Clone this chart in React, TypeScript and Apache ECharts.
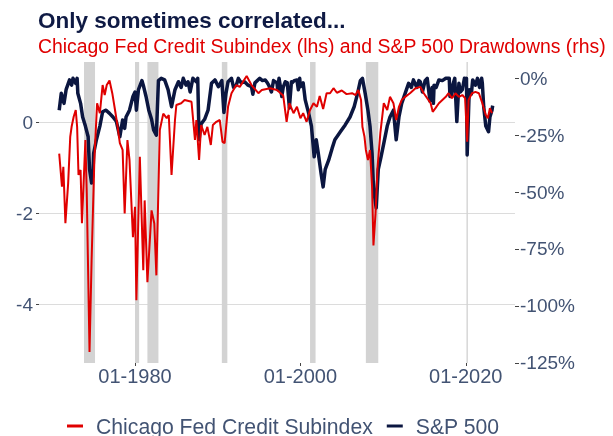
import { useEffect, useRef } from 'react';
import * as echarts from 'echarts';

// ---- Data ----
const creditDates = [
  '1970-11','1971-03','1971-05','1971-08','1971-12','1972-03','1972-05','1972-08','1972-11','1973-01',
  '1973-03','1973-06','1973-08','1974-01','1974-03','1974-07','1974-10','1975-02','1975-06','1975-10',
  '1976-02','1976-05','1976-08','1976-12','1977-04','1977-08','1977-11','1978-03','1978-07','1978-10',
  '1979-02','1979-05','1979-10','1980-01','1980-03','1980-08','1981-01','1981-03','1981-07','1982-01',
  '1982-05','1982-08','1983-01','1983-06','1983-11','1984-02','1984-06','1984-11','1985-01','1985-08',
  '1986-01','1986-11','1987-04','1987-06','1987-10','1988-01','1988-06','1988-10','1989-03','1989-06',
  '1989-11','1990-04','1990-08','1990-11','1991-04','1991-09','1992-04','1992-09','1993-07','1994-02',
  '1994-12','1995-05','1996-05','1997-03','1997-12','1998-05','1998-09','1999-03','1999-08','2000-01',
  '2000-05','2000-10','2001-03','2001-08','2002-01','2002-05','2002-10','2003-03','2003-08','2004-01',
  '2004-06','2005-01','2005-08','2006-04','2006-09','2007-01','2007-05','2007-07','2007-10','2007-12',
  '2008-03','2008-06','2008-09','2008-11','2009-02','2009-05','2009-09','2010-02','2010-07','2010-11',
  '2011-04','2011-08','2011-12','2012-04','2012-09','2013-04','2013-12','2014-07','2014-12','2015-05',
  '2015-10','2016-01','2016-05','2016-10','2017-03','2017-08','2017-12','2018-05','2018-10','2019-03',
  '2019-08','2019-12','2020-03','2020-05','2020-10','2021-03','2021-08','2022-01','2022-06','2022-09',
  '2022-12','2023-03',
];
const creditValues = [
  -0.68,-1.41,-0.97,-2.21,-1.33,-0.31,-0.09,0.13,0.28,-0.09,
  -1.15,-1.04,-2.21,-0.38,-1.56,-5.05,-3.03,-0.82,0.43,0.21,
  0.83,0.61,0.83,0.93,0.65,0.28,-0.01,-0.45,-0.6,-2.0,
  -0.38,-0.82,-2.52,-1.85,-3.91,-0.75,-3.25,-1.71,-3.51,-1.93,
  -2.22,-3.36,-0.16,0.2,0.1,0.17,-1.15,0.06,0.39,0.43,
  0.5,0.46,-0.38,0.06,-0.82,-0.05,-0.27,-0.09,-0.49,-0.05,
  0.02,0.06,-0.42,-0.45,0.35,0.65,0.83,0.79,1.03,0.83,
  0.65,0.72,0.76,0.72,0.6,0.02,0.43,0.21,0.35,0.1,
  0.21,0.02,0.28,0.43,0.35,0.59,0.3,0.65,0.65,0.76,
  0.66,0.71,0.63,0.65,0.61,0.72,0.5,-0.09,-0.31,-0.6,
  -0.82,-0.6,-1.41,-2.7,-2.0,-0.97,-0.23,0.43,0.28,0.57,
  0.43,0.06,0.35,0.5,0.57,0.65,0.76,0.79,0.65,0.54,
  0.43,0.24,0.32,0.43,0.5,0.57,0.65,0.54,0.65,0.57,
  0.61,0.54,-0.42,0.5,0.65,0.68,0.65,0.43,0.17,0.1,
  0.32,0.21,
];

const spxDates = [
  '1970-11','1971-02','1971-06','1971-09','1972-02','1972-05','1972-07','1972-11','1973-01','1973-02',
  '1973-06','1973-09','1974-01','1974-05','1974-07','1974-10','1974-12','1975-01','1975-05','1975-10',
  '1976-02','1976-07','1976-12','1977-05','1977-10','1978-03','1978-07','1978-10','1978-12','1979-05',
  '1979-10','1980-01','1980-03','1980-06','1980-11','1981-01','1981-05','1981-09','1982-01','1982-04',
  '1982-08','1982-11','1983-03','1983-08','1984-01','1984-06','1984-11','1985-04','1985-08','1985-11',
  '1986-03','1986-06','1986-09','1987-01','1987-06','1987-08','1987-10','1987-12','1988-01','1988-06',
  '1988-11','1989-04','1989-09','1990-02','1990-07','1990-10','1991-01','1991-04','1991-09','1991-12',
  '1992-04','1992-07','1992-11','1993-04','1993-09','1994-02','1994-04','1994-07','1995-02','1995-06',
  '1995-10','1996-01','1996-03','1996-07','1996-10','1997-03','1997-04','1997-06','1997-08','1997-10',
  '1997-12','1998-03','1998-06','1998-09','1998-12','1999-01','1999-04','1999-08','1999-10','1999-12',
  '2000-01','2000-05','2000-08','2001-01','2001-05','2001-09','2001-12','2002-03','2002-07','2002-10',
  '2003-01','2003-06','2003-11','2004-03','2004-11','2005-06','2006-01','2006-07','2006-12','2007-04',
  '2007-07','2007-11','2008-03','2008-06','2008-09','2008-11','2009-02','2009-03','2009-06','2009-10',
  '2010-02','2010-07','2010-11','2011-04','2011-08','2011-12','2012-04','2012-09','2013-02','2013-06',
  '2013-09','2014-02','2014-05','2014-07','2014-10','2015-02','2015-05','2015-09','2015-12','2016-02',
  '2016-03','2016-06','2016-10','2017-03','2017-08','2018-01','2018-02','2018-04','2018-06','2018-09',
  '2018-12','2019-03','2019-05','2019-08','2019-11','2020-01','2020-02','2020-03','2020-06','2020-09',
  '2020-11','2021-03','2021-06','2021-09','2021-12','2022-01','2022-03','2022-06','2022-10','2022-12',
  '2023-03','2023-04',
];
const spxDrawdown = [
  -14,-6.6,-11,-5,-0.7,-3,0,-2.2,0,-6.6,
  -11,-17,-21,-25.7,-40,-46,-42,-33,-27,-21,
  -14.7,-14,-15.4,-17,-19,-25.7,-18.3,-22,-17,-14,
  -8,-6,-14,-5,-1,-3,-8,-14,-18,-22.7,
  -25,-1,0,-0.7,-5,-12.5,-5,-1.5,-4,0,
  -3,-1.5,-6,0,-1.5,0,-27,-22,-20,-18,
  -14,-2.2,-0.7,-3.7,-1,-15,-6.6,-1.5,0,-4,
  -3,0,-2,-1.5,-3,-3.7,-7,-2,0,-1,
  -0.7,-2,-3,-6,-1,-2,-5,0,-3.7,-8,
  -4,-1.5,-2,-13,-1.5,-2,-1,-0.7,-5,0,
  -3.7,-2,-9.5,-15.4,-21,-34.5,-27,-33,-41.8,-47.7,
  -40,-36,-30.8,-27,-23.5,-20.5,-17,-12.5,-6.6,-1,
  0,-6.6,-14,-21,-33,-47.7,-55,-57,-40,-34.5,
  -28.6,-21,-17,-14,-27,-17,-11,-6.6,-2.2,-4,
  -0.7,-4,-1,-1.5,-6,-1,0,-10,-4,-11,
  -3,-4,-0.7,-1,0,0,-8,-8,-3,0,
  -19,-2.2,-6,-5,0,-1,0,-33.7,-5,-7,
  -0.7,-3,0,-4,0,-2.2,-12.5,-21,-23.5,-17,
  -14,-12,
];

const recessionStarts = ['1973-11','1980-01','1981-07','1990-07','2001-03','2007-12','2020-02'];
const recessionEnds = ['1975-03','1980-07','1982-11','1991-03','2001-11','2009-06','2020-04'];

const xTickYears = [1980, 2000, 2020];
const leftTicks = [0, -2, -4];
const rightTicks = [0, -25, -50, -75, -100, -125];

// ---- Styles ----
const FONT = '"Liberation Sans", Arial, Helvetica, sans-serif';
const TEXT = '#425373';
const NAVY = '#0b1640';
const TITLE_NAVY = '#0f1a44';
const RED = '#e00000';

function toYear(d: string): number {
  const [y, m] = d.split('-').map(Number);
  return y + (m - 1) / 12;
}

export default function App() {
  const ref = useRef<HTMLDivElement>(null);

  useEffect(() => {
    if (!ref.current) return;
    const chart = echarts.init(ref.current, null, { renderer: 'svg' });

    const credit = creditDates.map((d, i) => [toYear(d), creditValues[i]]);
    const spx = spxDates.map((d, i) => [toYear(d), spxDrawdown[i]]);
    const recessions = recessionStarts.map((s, i) => [
      { xAxis: toYear(s) },
      { xAxis: toYear(recessionEnds[i]) },
    ]);

    chart.setOption({
      animation: false,
      textStyle: { fontFamily: FONT },
      title: [
        {
          text: 'Only sometimes correlated...',
          left: 38,
          top: 7.5,
          padding: 0,
          textStyle: { fontFamily: FONT, fontSize: 22.5, fontWeight: 'bold', color: TITLE_NAVY, lineHeight: 26 },
        },
        {
          text: 'Chicago Fed Credit Subindex (lhs) and S&P 500 Drawdowns (rhs)',
          left: 38,
          top: 35,
          padding: 0,
          textStyle: { fontFamily: FONT, fontSize: 19.4, fontWeight: 'normal', color: RED, lineHeight: 22 },
        },
      ],
      grid: { left: 39, right: 98, top: 62, bottom: 73 },
      legend: {
        left: 67,
        top: 414,
        padding: 0,
        icon: 'rect',
        itemWidth: 16,
        itemHeight: 3,
        itemGap: 14,
        data: ['Chicago Fed Credit Subindex', 'S&P 500'],
        textStyle: { fontFamily: FONT, fontSize: 21.2, color: TEXT, lineHeight: 24, padding: [0, 0, 0, 8] },
      },
      xAxis: {
        type: 'value',
        min: 1968.39,
        max: 2025.95,
        splitLine: { show: false },
        axisLine: { show: false, onZero: false },
        axisTick: { show: true, length: 3, lineStyle: { color: '#444', width: 1 }, customValues: xTickYears },
        axisLabel: {
          customValues: xTickYears,
          formatter: (v: number) => '01-' + Math.round(v),
          fontFamily: FONT,
          fontSize: 20,
          lineHeight: 20,
          color: TEXT,
          margin: 3,
        },
      },
      yAxis: [
        {
          type: 'value',
          position: 'left',
          min: -5.29,
          max: 1.337,
          splitLine: { show: true, lineStyle: { color: '#dcdcdc', width: 1 } },
          axisLine: { show: false, onZero: false },
          axisTick: { show: true, length: 3, lineStyle: { color: '#444', width: 1 }, customValues: leftTicks },
          axisLabel: { customValues: leftTicks, fontFamily: FONT, fontSize: 19, color: TEXT, margin: 6 },
        },
        {
          type: 'value',
          position: 'right',
          min: -125.1,
          max: 7.17,
          splitLine: { show: false },
          axisLine: { show: false, onZero: false },
          axisTick: { show: true, length: 4, lineStyle: { color: '#444', width: 1 }, customValues: rightTicks },
          axisLabel: {
            customValues: rightTicks,
            formatter: '{value}%',
            fontFamily: FONT,
            fontSize: 19,
            color: TEXT,
            margin: 5,
          },
        },
      ],
      series: [
        {
          name: 'S&P 500',
          type: 'line',
          yAxisIndex: 1,
          data: spx,
          symbol: 'none',
          showSymbol: false,
          lineStyle: { color: NAVY, width: 3.5, join: 'round' },
          itemStyle: { color: NAVY },
          markArea: {
            silent: true,
            itemStyle: { color: '#d3d3d3' },
            label: { show: false },
            data: recessions,
          },
        },
        {
          name: 'Chicago Fed Credit Subindex',
          type: 'line',
          yAxisIndex: 0,
          data: credit,
          symbol: 'none',
          showSymbol: false,
          lineStyle: { color: RED, width: 2 },
          itemStyle: { color: RED },
        },
      ],
    });

    return () => chart.dispose();
  }, []);

  return <div ref={ref} style={{ position: 'fixed', left: 0, top: 0, width: 613, height: 436 }} />;
}
